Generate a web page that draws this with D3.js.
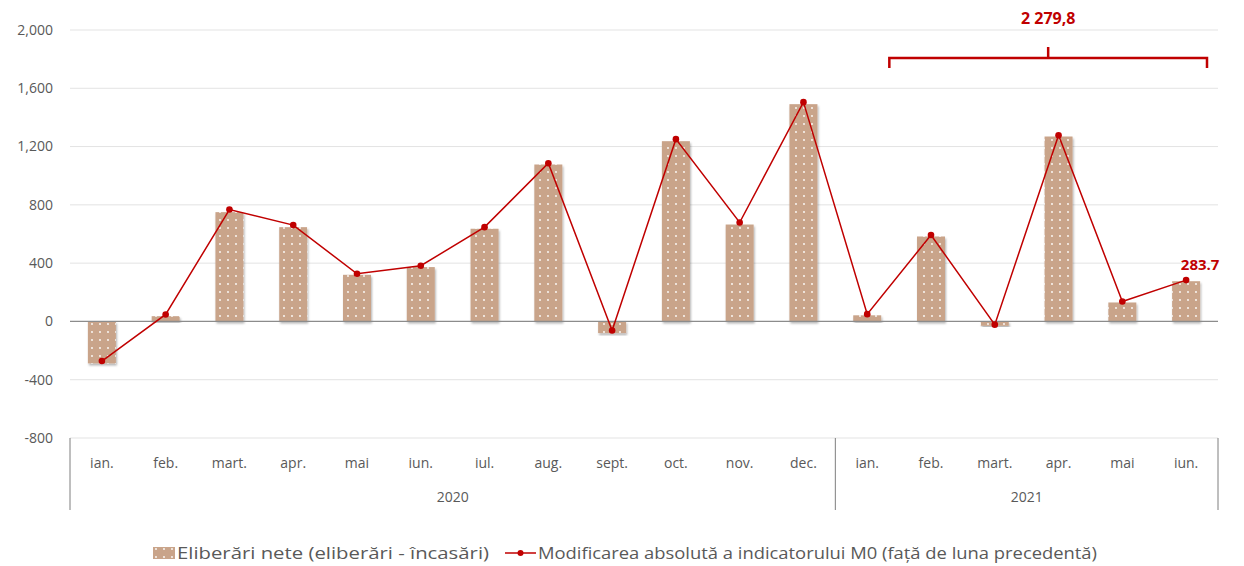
<!DOCTYPE html>
<html>
<head>
<meta charset="utf-8">
<script src="https://cdn.jsdelivr.net/npm/d3@7"></script>
<style>
  body { margin: 0; background: #fff; }
  svg text { font-family: "Open Sans", "DejaVu Sans", sans-serif; }
</style>
</head>
<body>
<svg id="chart"></svg>
<script>
// month labels and years
var months = ["ian.", "feb.", "mart.", "apr.", "mai", "iun.", "iul.", "aug.", "sept.", "oct.", "nov.", "dec.",
              "ian.", "feb.", "mart.", "apr.", "mai", "iun."];
var years = [{ label: "2020", count: 12 }, { label: "2021", count: 6 }];

// Eliberari nete (bars)
var netIssues = [-288, 36, 750, 647, 320, 373, 636, 1077, -80, 1237, 665, 1491,
                 42, 583, -30, 1269, 130, 276];
// Modificarea absoluta M0 (line)
var m0Change = [-272, 48, 768, 661, 327, 382, 647, 1086, -62, 1251, 679, 1505,
                50, 593, -22, 1278, 137, 283.7];

var yTicks = [-800, -400, 0, 400, 800, 1200, 1600, 2000];
var sumLabel = "2 279,8";
var lastLabel = "283.7";

var svgWidth = 1244, svgHeight = 566;
var plotL = 70, plotR = 1218, plotT = 30, plotB = 438;
var red = "#c00000", grey = "#595959";

var svg = d3.select("#chart").attr("width", svgWidth).attr("height", svgHeight);

var x = d3.scaleBand().domain(d3.range(months.length)).range([plotL, plotR]);
var y = d3.scaleLinear().domain([-800, 2000]).range([plotB, plotT]);

// dotted fill for bars
var defs = svg.append("defs");
var pat = defs.append("pattern")
  .attr("id", "dots")
  .attr("patternUnits", "userSpaceOnUse")
  .attr("width", 8).attr("height", 8);
pat.append("rect").attr("width", 8).attr("height", 8).attr("fill", "#c9a48a");
pat.append("circle").attr("cx", 4).attr("cy", 4).attr("r", 0.9).attr("fill", "#fff");

var shadow = defs.append("filter").attr("id", "shadow")
  .attr("x", "-20%").attr("y", "-20%").attr("width", "140%").attr("height", "140%");
shadow.append("feDropShadow").attr("dx", 1).attr("dy", 2).attr("stdDeviation", 1.2)
  .attr("flood-color", "#000").attr("flood-opacity", 0.3);

// gridlines + y labels
svg.append("g")
  .selectAll("line")
  .data(yTicks.filter(function(d) { return d !== 0; }))
  .join("line")
  .attr("x1", plotL).attr("x2", plotR)
  .attr("y1", function(d) { return y(d); }).attr("y2", function(d) { return y(d); })
  .attr("stroke", "#e3e3e3").attr("stroke-width", 1);

svg.append("g")
  .selectAll("text")
  .data(yTicks)
  .join("text")
  .attr("x", 53)
  .attr("y", function(d) { return y(d); })
  .attr("dy", "0.35em")
  .attr("text-anchor", "end")
  .attr("fill", grey)
  .attr("font-size", 14)
  .text(function(d) { return d3.format(",")(d).replace("−", "-"); });

// bars
var bw = 28;
svg.append("g")
  .selectAll("rect")
  .data(netIssues)
  .join("rect")
  .attr("x", function(d, i) { return x(i) + x.bandwidth() / 2 - bw / 2; })
  .attr("y", function(d) { return y(Math.max(0, d)); })
  .attr("width", bw)
  .attr("height", function(d) { return Math.abs(y(d) - y(0)); })
  .attr("fill", "url(#dots)")
  .attr("filter", "url(#shadow)");

// zero line
svg.append("line")
  .attr("x1", plotL).attr("x2", plotR)
  .attr("y1", y(0)).attr("y2", y(0))
  .attr("stroke", "#8c8c8c").attr("stroke-width", 1.3);

// category axis
var cat = svg.append("g");
var sepIdx = [0];
years.forEach(function(yr) { sepIdx.push(sepIdx[sepIdx.length - 1] + yr.count); });
cat.selectAll("line")
  .data(sepIdx)
  .join("line")
  .attr("x1", function(i) { return i < months.length ? x(i) : plotR; })
  .attr("x2", function(i) { return i < months.length ? x(i) : plotR; })
  .attr("y1", plotB).attr("y2", 510)
  .attr("stroke", "#7f7f7f").attr("stroke-width", 1);

cat.selectAll("text.month")
  .data(months)
  .join("text")
  .attr("class", "month")
  .attr("x", function(d, i) { return x(i) + x.bandwidth() / 2; })
  .attr("y", 468)
  .attr("text-anchor", "middle")
  .attr("fill", grey)
  .attr("font-size", 14)
  .text(function(d) { return d; });

cat.selectAll("text.year")
  .data(years)
  .join("text")
  .attr("class", "year")
  .attr("x", function(d, i) {
    var a = sepIdx[i], b = sepIdx[i + 1];
    var xa = x(a), xb = b < months.length ? x(b) : plotR;
    return (xa + xb) / 2;
  })
  .attr("y", 502)
  .attr("text-anchor", "middle")
  .attr("fill", grey)
  .attr("font-size", 14)
  .text(function(d) { return d.label; });

// line series
var line = d3.line()
  .x(function(d, i) { return x(i) + x.bandwidth() / 2; })
  .y(function(d) { return y(d); });

svg.append("path")
  .datum(m0Change)
  .attr("d", line)
  .attr("fill", "none")
  .attr("stroke", red)
  .attr("stroke-width", 1.5);

svg.append("g")
  .selectAll("circle")
  .data(m0Change)
  .join("circle")
  .attr("cx", function(d, i) { return x(i) + x.bandwidth() / 2; })
  .attr("cy", function(d) { return y(d); })
  .attr("r", 3.3)
  .attr("fill", red);

// label on last point
var lastI = m0Change.length - 1;
svg.append("text")
  .attr("x", x(lastI) + x.bandwidth() / 2 + 14)
  .attr("y", y(m0Change[lastI]) - 10)
  .attr("text-anchor", "middle")
  .attr("fill", red)
  .attr("font-size", 15)
  .attr("font-weight", "bold")
  .text(lastLabel);

// bracket for 2021 sum
var bx1 = x(12) + 54, bx2 = plotR - 11, by = 58;
var bracket = svg.append("g").attr("stroke", red).attr("stroke-width", 2.5).attr("fill", "none");
bracket.append("path")
  .attr("d", "M" + bx1 + "," + (by + 10) + "V" + by + "H" + bx2 + "V" + (by + 10));
bracket.append("line")
  .attr("x1", (bx1 + bx2) / 2).attr("x2", (bx1 + bx2) / 2)
  .attr("y1", by).attr("y2", by - 11);
svg.append("text")
  .attr("x", (bx1 + bx2) / 2)
  .attr("y", 24)
  .attr("text-anchor", "middle")
  .attr("fill", red)
  .attr("font-size", 16)
  .attr("font-weight", "bold")
  .text(sumLabel);

// legend
var lg = svg.append("g").attr("transform", "translate(0,553)");
lg.append("rect")
  .attr("x", 153).attr("y", -6).attr("width", 22).attr("height", 12)
  .attr("fill", "url(#dots)");
lg.append("text")
  .attr("x", 177).attr("y", 0).attr("dy", "0.35em")
  .attr("fill", grey).attr("font-size", 17)
  .attr("textLength", 312).attr("lengthAdjust", "spacingAndGlyphs")
  .text("Eliberări nete (eliberări - încasări)");
lg.append("line")
  .attr("x1", 505).attr("x2", 536).attr("y1", 0).attr("y2", 0)
  .attr("stroke", red).attr("stroke-width", 1.5);
lg.append("circle").attr("cx", 520.5).attr("cy", 0).attr("r", 3).attr("fill", red);
lg.append("text")
  .attr("x", 538).attr("y", 0).attr("dy", "0.35em")
  .attr("fill", grey).attr("font-size", 17)
  .attr("textLength", 559).attr("lengthAdjust", "spacingAndGlyphs")
  .text("Modificarea absolută a indicatorului M0 (față de luna precedentă)");
</script>
</body>
</html>
